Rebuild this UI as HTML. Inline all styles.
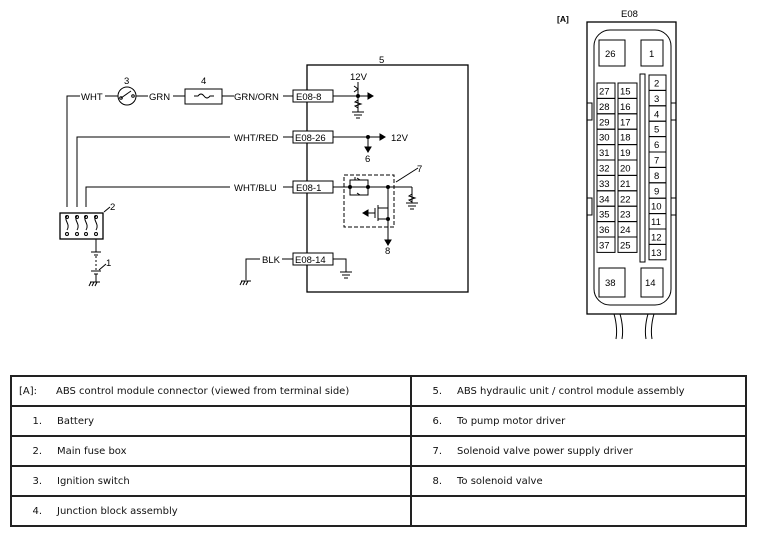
<!DOCTYPE html>
<html><head><meta charset="utf-8"><style>
html,body{margin:0;padding:0;background:#fff;width:758px;height:536px;overflow:hidden}
svg text{font-family:"Liberation Sans",Arial,sans-serif;font-size:9.5px;fill:#000}
table{position:absolute;left:10px;top:375px;width:737px;border-collapse:collapse;font-family:"DejaVu Sans",Verdana,sans-serif;font-size:10px;color:#111;table-layout:fixed}
tr{height:30px}
td{border:2px solid #222;padding:0;vertical-align:middle;box-sizing:border-box;white-space:nowrap}
.n{display:inline-block;width:30px;text-align:right;margin-right:15px}
</style></head><body>
<svg width="758" height="370" style="position:absolute;left:0;top:0" stroke="#000" fill="none" stroke-width="1" font-family="Liberation Sans, Arial, sans-serif" font-size="9.5">
<rect x="307" y="65" width="161" height="227" stroke-width="1.3"/>
<text x="379" y="63" stroke="none">5</text>
<polyline points="67,207 67,96 80,96"/>
<text x="81" y="100" stroke="none">WHT</text>
<line x1="105" y1="96" x2="118" y2="96"/>
<circle cx="127" cy="96" r="9"/>
<line x1="121" y1="98" x2="131" y2="91"/><circle cx="121" cy="98" r="1.3"/><circle cx="133" cy="96" r="1.3"/>
<text x="124" y="84" stroke="none">3</text>
<line x1="136" y1="96" x2="148" y2="96"/>
<text x="149" y="100" stroke="none">GRN</text>
<line x1="173" y1="96" x2="185" y2="96"/>
<rect x="185" y="89" width="37" height="15"/>
<path d="M194,96 h4 q3,-4 6,0 t6,0 h4"/>
<text x="201" y="84" stroke="none">4</text>
<line x1="222" y1="96" x2="234" y2="96"/>
<text x="234" y="100" stroke="none">GRN/ORN</text>
<line x1="283" y1="96" x2="293" y2="96"/>
<rect x="293" y="90" width="40" height="12" fill="#fff"/>
<text x="296" y="100" stroke="none">E08-8</text>
<line x1="333" y1="96" x2="370" y2="96"/>
<path d="M368,93 l5,3 l-5,3z" fill="#000"/>
<text x="350" y="80" stroke="none">12V</text>
<line x1="358" y1="82" x2="358" y2="112"/>
<path d="M354,86 l4,3 l-4,3 M358,100 l-3,2 l6,2 l-6,2 l3,2" />
<circle cx="358" cy="96" r="1.5" fill="#000"/>
<line x1="352" y1="112" x2="364" y2="112"/><line x1="354" y1="115" x2="362" y2="115"/><line x1="356" y1="118" x2="360" y2="118"/>
<polyline points="77,207 77,137 230,137"/>
<text x="234" y="141" stroke="none">WHT/RED</text>
<line x1="283" y1="137" x2="293" y2="137"/>
<rect x="293" y="131" width="40" height="12" fill="#fff"/>
<text x="295" y="141" stroke="none">E08-26</text>
<line x1="333" y1="137" x2="381" y2="137"/>
<path d="M380,134 l5,3 l-5,3z" fill="#000"/>
<text x="391" y="141" stroke="none">12V</text>
<circle cx="368" cy="137" r="1.5" fill="#000"/>
<line x1="368" y1="137" x2="368" y2="149"/><path d="M365,147 l3,5 l3,-5z" fill="#000"/>
<text x="365" y="162" stroke="none">6</text>
<polyline points="86,207 86,187 230,187"/>
<text x="234" y="191" stroke="none">WHT/BLU</text>
<line x1="283" y1="187" x2="293" y2="187"/>
<rect x="293" y="181" width="40" height="12" fill="#fff"/>
<text x="296" y="191" stroke="none">E08-1</text>
<line x1="333" y1="187" x2="412" y2="187"/>
<rect x="344" y="175" width="50" height="52" stroke-dasharray="4,2"/>
<rect x="350" y="180" width="18" height="15"/>
<path d="M355,180 v-3 M360,180 l-3,-2 M360,195 l-3,-2"/>
<circle cx="350" cy="187" r="1.5" fill="#000"/><circle cx="368" cy="187" r="1.5" fill="#000"/><circle cx="388" cy="187" r="1.5" fill="#000"/>
<line x1="388" y1="187" x2="388" y2="242"/>
<path d="M385,240 l3,5 l3,-5z" fill="#000"/>
<path d="M378,205 v16 M375,208 v10 M378,208 h10 M378,219 h10 M375,213 h-9"/>
<path d="M368,210 l-5,3 l5,3z" fill="#000"/>
<circle cx="388" cy="219" r="1.5" fill="#000"/>
<line x1="412" y1="187" x2="412" y2="203"/>
<path d="M412,194 l-3,2 l6,2 l-6,2 l3,2"/>
<line x1="406" y1="203" x2="418" y2="203"/><line x1="408" y1="206" x2="416" y2="206"/><line x1="410" y1="209" x2="414" y2="209"/>
<line x1="396" y1="182" x2="418" y2="168"/>
<text x="417" y="172" stroke="none">7</text>
<text x="385" y="254" stroke="none">8</text>
<polyline points="246,280 246,259 260,259"/>
<path d="M241,281 h10 M242,281 l-2,4 M245,281 l-2,4 M248,281 l-2,4"/>
<text x="262" y="263" stroke="none">BLK</text>
<line x1="282" y1="259" x2="293" y2="259"/>
<rect x="293" y="253" width="40" height="12" fill="#fff"/>
<text x="295" y="263" stroke="none">E08-14</text>
<polyline points="333,259 346,259 346,272"/>
<line x1="340" y1="272" x2="352" y2="272"/><line x1="342" y1="275" x2="350" y2="275"/><line x1="344" y1="278" x2="348" y2="278"/>
<rect x="60" y="213" width="43" height="26" stroke-width="1.3"/>
<path d="M67,216 c-4,4 4,8 0,14 M77,216 c-4,4 4,8 0,14 M86,216 c-4,4 4,8 0,14 M96,216 c-4,4 4,8 0,14"/>
<circle cx="67" cy="217" r="1.5"/><circle cx="77" cy="217" r="1.5"/><circle cx="86" cy="217" r="1.5"/><circle cx="96" cy="217" r="1.5"/>
<circle cx="67" cy="234" r="1.5"/><circle cx="77" cy="234" r="1.5"/><circle cx="86" cy="234" r="1.5"/><circle cx="96" cy="234" r="1.5"/>
<line x1="104" y1="212" x2="110" y2="207"/>
<text x="110" y="210" stroke="none">2</text>
<line x1="96" y1="239" x2="96" y2="252"/>
<line x1="91" y1="252" x2="101" y2="252"/><line x1="94" y1="255" x2="98" y2="255"/>
<line x1="96" y1="256" x2="96" y2="270" stroke-dasharray="2,2"/>
<line x1="91" y1="271" x2="101" y2="271"/><line x1="94" y1="274" x2="98" y2="274"/>
<line x1="96" y1="274" x2="96" y2="282"/>
<path d="M90,282 h10 M91,282 l-2,4 M94,282 l-2,4 M97,282 l-2,4"/>
<line x1="99" y1="270" x2="106" y2="264"/>
<text x="106" y="266" stroke="none">1</text>
<text x="557" y="22" stroke="none" style="font-size:8.5px;font-weight:bold">[A]</text>
<text x="621" y="17" stroke="none">E08</text>
<rect x="587" y="22" width="89" height="292" stroke-width="1.3"/>
<rect x="594" y="30" width="77" height="275" rx="16"/>
<rect x="599" y="40" width="26" height="26"/><text x="605" y="57" stroke="none">26</text>
<rect x="641" y="40" width="22" height="26"/><text x="649" y="57" stroke="none">1</text>
<rect x="599" y="268" width="26" height="29"/><text x="605" y="286" stroke="none">38</text>
<rect x="641" y="268" width="22" height="29"/><text x="645" y="286" stroke="none">14</text>
<rect x="640" y="74" width="5" height="188"/>
<rect x="587" y="103" width="5" height="17"/><rect x="587" y="198" width="5" height="17"/>
<rect x="671" y="103" width="5" height="17"/><rect x="671" y="198" width="5" height="17"/>
<path d="M614,314 c3,10 3,20 2,25 M620,314 c3,10 3,20 2,25 M648,314 c-3,10 -3,20 -2,25 M654,314 c-3,10 -3,20 -2,25"/>
<g id="pins"></g>
</svg>
<table>
<colgroup><col style="width:400px"><col></colgroup>
<tr><td><span class="n" style="width:25px;margin-right:19px">[A]:</span>ABS control module connector (viewed from terminal side)</td><td><span class="n">5.</span>ABS hydraulic unit / control module assembly</td></tr>
<tr><td><span class="n">1.</span>Battery</td><td><span class="n">6.</span>To pump motor driver</td></tr>
<tr><td><span class="n">2.</span>Main fuse box</td><td><span class="n">7.</span>Solenoid valve power supply driver</td></tr>
<tr><td><span class="n">3.</span>Ignition switch</td><td><span class="n">8.</span>To solenoid valve</td></tr>
<tr><td><span class="n">4.</span>Junction block assembly</td><td></td></tr>
</table>
<script>
var g=document.getElementById('pins'),s='';
for(var i=0;i<11;i++){var y=83+i*15.4;
s+='<rect x="597" y="'+y+'" width="18" height="15.4"/><text x="599" y="'+(y+11.5)+'" stroke="none">'+(27+i)+'</text>';
s+='<rect x="618" y="'+y+'" width="19" height="15.4"/><text x="620" y="'+(y+11.5)+'" stroke="none">'+(15+i)+'</text>';}
for(var j=0;j<12;j++){var y2=75+j*15.4;var n=2+j;
s+='<rect x="649" y="'+y2+'" width="17" height="15.4"/><text x="'+(n<10?654:651)+'" y="'+(y2+11.5)+'" stroke="none">'+n+'</text>';}
g.innerHTML=s;
</script>
</body></html>
